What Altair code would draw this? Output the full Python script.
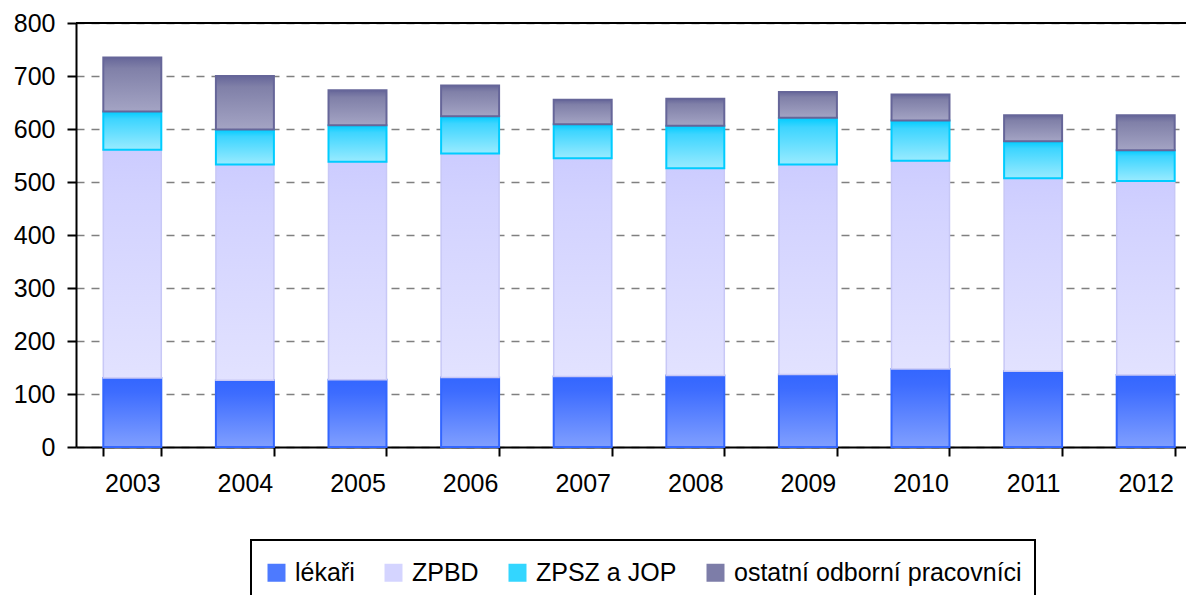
import altair as alt
import pandas as pd

years = ["2003", "2004", "2005", "2006", "2007", "2008", "2009", "2010", "2011", "2012"]
series_names = ["lékaři", "ZPBD", "ZPSZ a JOP", "ostatní odborní pracovníci"]
lekari = [130, 126, 127, 131, 133, 135, 137, 147, 143, 136]
zpbd = [431, 407, 411, 423, 412, 391, 396, 393, 364, 366]
zpsz = [72, 66, 69, 70, 64, 80, 88, 76, 70, 58]
ostatni = [102, 101, 66, 58, 46, 51, 49, 49, 49, 66]
y_ticks = [0, 100, 200, 300, 400, 500, 600, 700, 800]

series_values = [lekari, zpbd, zpsz, ostatni]
rows = []
for order, (name, vals) in enumerate(zip(series_names, series_values)):
    for yr, v in zip(years, vals):
        rows.append({"year": yr, "series": name, "value": v, "order": order})
df = pd.DataFrame(rows)

FONT = "Liberation Sans"
FS = 25

# gradient fills (top -> bottom) and outline colours per series
styles = {
    "lékaři": (["#3366FF", "#3D6CFF", "#809FFF"], "#3366FF", 2),
    "ZPBD": (["#CCCCFF", "#D2D2FF", "#E2E2FF"], "#C8C8F6", 1.5),
    "ZPSZ a JOP": (["#00CCFF", "#3DD5FF", "#99EBFF"], "#00CCFF", 2),
    "ostatní odborní pracovníci": (["#666699", "#8080A8", "#A4A4C4"], "#666699", 2),
}
legend_colors = ["#4D7AFF", "#D4D4FF", "#33D6FF", "#7D7DA8"]

xscale = alt.Scale(domain=years, range=[0, 1126], paddingInner=0.485, paddingOuter=0.2425)
yscale = alt.Scale(domain=[0, 800], nice=False)

xaxis = alt.Axis(
    title=None, labelAngle=0, labelFont=FONT, labelFontSize=FS, labelColor="black",
    labelPadding=15, tickBand="extent", tickSize=9, tickColor="black", tickWidth=2,
    domainColor="black", domainWidth=2, grid=False,
)
yaxis = alt.Axis(
    title=None, values=y_ticks, labelFont=FONT, labelFontSize=FS, labelColor="black",
    labelPadding=12, tickSize=9, tickColor="black", tickWidth=2,
    domainColor="black", domainWidth=2, grid=True, gridColor="#808080",
    gridDash=[8, 7], gridWidth=1.5,
)

X = alt.X("year:O", scale=xscale, axis=xaxis)

base = alt.Chart(df).transform_stack(
    stack="value", groupby=["year"], as_=["y0", "y1"],
    sort=[alt.SortField("order", "ascending")],
)

layers = []
for name in series_names:
    stops_c, stroke, sw = styles[name]
    grad = alt.LinearGradient(
        gradient="linear",
        stops=[
            alt.GradientStop(color=stops_c[0], offset=0),
            alt.GradientStop(color=stops_c[1], offset=0.2),
            alt.GradientStop(color=stops_c[2], offset=1),
        ],
        x1=0, x2=0, y1=0, y2=1,
    )
    layer = base.transform_filter(alt.datum.series == name).mark_bar(
        color=grad, stroke=stroke, strokeWidth=sw
    ).encode(
        x=X,
        y=alt.Y("y1:Q", scale=yscale, axis=yaxis),
        y2="y0:Q",
    )
    layers.append(layer)

legend_layer = base.mark_square(opacity=0, size=0).encode(
    x=X,
    y=alt.Y("y1:Q", scale=yscale, axis=yaxis),
    color=alt.Color(
        "series:N",
        scale=alt.Scale(domain=series_names, range=legend_colors),
        sort=series_names,
        legend=alt.Legend(
            title=" ", titleFontSize=1, titlePadding=6,
            orient="none", legendX=175, legendY=517,
            direction="horizontal", columns=4, symbolType="square",
            symbolSize=324, symbolOpacity=1, symbolStrokeWidth=0,
            labelFont=FONT, labelFontSize=FS, labelColor="black", labelLimit=500,
            labelOffset=6, columnPadding=26, padding=13,
            strokeColor="black", fillColor="white",
        ),
    ),
)

top_rule = alt.Chart(pd.DataFrame({"v": [800]})).mark_rule(
    color="black", strokeWidth=2
).encode(y=alt.Y("v:Q", scale=yscale, axis=yaxis))

chart = alt.layer(*layers, legend_layer, top_rule).properties(
    width=1110,
    height=424,
    autosize=alt.AutoSizeParams(type="none"),
    padding={"left": 68, "top": 15, "right": 0, "bottom": 148},
).configure_view(stroke=None).configure_legend(strokeWidth=2)

chart.save("out.html", embed_options={"renderer": "svg", "actions": False})
